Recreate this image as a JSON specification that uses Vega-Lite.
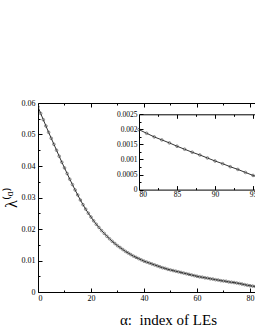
{
  "$schema": "https://vega.github.io/schema/vega-lite/v6.json",
  "width": 217,
  "height": 189,
  "autosize": {"type": "none"},
  "padding": {"left": 38, "top": 103, "right": 0, "bottom": 38},
  "background": "white",
  "config": {
    "view": {"stroke": null},
    "axis": {
      "labelFont": "Liberation Serif",
      "titleFont": "Liberation Serif",
      "labelColor": "black",
      "titleColor": "black",
      "domainColor": "black",
      "tickColor": "black",
      "domainWidth": 1,
      "tickWidth": 1,
      "grid": false,
      "labelFontSize": 8,
      "titleFontWeight": "normal"
    }
  },
  "datasets": {
    "main": [
      {"a": 0, "l": 0.0588}, {"a": 1, "l": 0.0567}, {"a": 2, "l": 0.0547}, {"a": 3, "l": 0.0527},
      {"a": 4, "l": 0.0507}, {"a": 5, "l": 0.0488}, {"a": 6, "l": 0.0469}, {"a": 7, "l": 0.045},
      {"a": 8, "l": 0.0431}, {"a": 9, "l": 0.0412}, {"a": 10, "l": 0.0394}, {"a": 11, "l": 0.0376},
      {"a": 12, "l": 0.0358}, {"a": 13, "l": 0.0341}, {"a": 14, "l": 0.0324}, {"a": 15, "l": 0.0308},
      {"a": 16, "l": 0.0292}, {"a": 17, "l": 0.0277}, {"a": 18, "l": 0.0263}, {"a": 19, "l": 0.025},
      {"a": 20, "l": 0.0238}, {"a": 21, "l": 0.0226}, {"a": 22, "l": 0.0215}, {"a": 23, "l": 0.0205},
      {"a": 24, "l": 0.0195}, {"a": 25, "l": 0.0186}, {"a": 26, "l": 0.0177}, {"a": 27, "l": 0.0169},
      {"a": 28, "l": 0.0161}, {"a": 29, "l": 0.0154}, {"a": 30, "l": 0.0147}, {"a": 31, "l": 0.0141},
      {"a": 32, "l": 0.0135}, {"a": 33, "l": 0.0129}, {"a": 34, "l": 0.0124}, {"a": 35, "l": 0.0119},
      {"a": 36, "l": 0.0114}, {"a": 37, "l": 0.011}, {"a": 38, "l": 0.0106}, {"a": 39, "l": 0.0102},
      {"a": 40, "l": 0.0098}, {"a": 41, "l": 0.0095}, {"a": 42, "l": 0.0092}, {"a": 43, "l": 0.0089},
      {"a": 44, "l": 0.0086}, {"a": 45, "l": 0.0083}, {"a": 46, "l": 0.008}, {"a": 47, "l": 0.0077},
      {"a": 48, "l": 0.0075}, {"a": 49, "l": 0.0072}, {"a": 50, "l": 0.007}, {"a": 51, "l": 0.0068},
      {"a": 52, "l": 0.0066}, {"a": 53, "l": 0.0064}, {"a": 54, "l": 0.0062}, {"a": 55, "l": 0.006},
      {"a": 56, "l": 0.0058}, {"a": 57, "l": 0.0056}, {"a": 58, "l": 0.0054}, {"a": 59, "l": 0.0052},
      {"a": 60, "l": 0.005}, {"a": 61, "l": 0.0048}, {"a": 62, "l": 0.0047}, {"a": 63, "l": 0.0045},
      {"a": 64, "l": 0.0044}, {"a": 65, "l": 0.0042}, {"a": 66, "l": 0.0041}, {"a": 67, "l": 0.0039},
      {"a": 68, "l": 0.0038}, {"a": 69, "l": 0.0036}, {"a": 70, "l": 0.0035}, {"a": 71, "l": 0.0034},
      {"a": 72, "l": 0.0032}, {"a": 73, "l": 0.0031}, {"a": 74, "l": 0.003}, {"a": 75, "l": 0.00285},
      {"a": 76, "l": 0.0027}, {"a": 77, "l": 0.00252}, {"a": 78, "l": 0.00233}, {"a": 79, "l": 0.00215},
      {"a": 80, "l": 0.00199}, {"a": 81, "l": 0.00187}, {"a": 82, "l": 0.00175}, {"a": 83, "l": 0.00165},
      {"a": 84, "l": 0.00155}, {"a": 85, "l": 0.00144}, {"a": 86, "l": 0.00134}, {"a": 87, "l": 0.00124},
      {"a": 88, "l": 0.00115}, {"a": 89, "l": 0.00105}, {"a": 90, "l": 0.00095}, {"a": 91, "l": 0.00086},
      {"a": 92, "l": 0.00076}, {"a": 93, "l": 0.00067}, {"a": 94, "l": 0.00057}, {"a": 95, "l": 0.00047},
      {"a": 96, "l": 0.00038}, {"a": 97, "l": 0.00029}
    ]
  },
  "data": {"name": "main"},
  "resolve": {"scale": {"x": "independent", "y": "independent"}},
  "layer": [
    {
      "layer": [
        {"mark": {"type": "line", "color": "black", "strokeWidth": 0.8, "clip": true}},
        {"mark": {"type": "point", "shape": "circle", "filled": false, "size": 7, "color": "#333333", "strokeWidth": 0.8, "clip": true}}
      ],
      "encoding": {
        "x": {
          "field": "a", "type": "quantitative",
          "scale": {"domain": [0, 81.9], "nice": false, "zero": false},
          "axis": {
            "orient": "bottom", "values": [0, 20, 40, 60, 80], "tickSize": -4, "labelPadding": 6,
            "title": "α:\u00a0\u00a0index of LEs", "titleFontSize": 15, "titleX": 130, "titleY": 32,
            "titleAlign": "center", "titleBaseline": "alphabetic"
          }
        },
        "y": {
          "field": "l", "type": "quantitative",
          "scale": {"domain": [0, 0.06], "nice": false, "zero": false},
          "axis": {
            "orient": "left", "values": [0, 0.01, 0.02, 0.03, 0.04, 0.05, 0.06], "format": "~g",
            "tickSize": -4, "labelPadding": 7,
            "title": "λ⁽ᵅ⁾", "titleFontSize": 16, "titleX": -27, "titleY": 94,
            "titleAlign": "center", "titleBaseline": "middle", "titleAngle": -90
          }
        }
      }
    },
    {
      "mark": {"type": "point", "opacity": 0},
      "encoding": {
        "x": {"field": "a", "type": "quantitative", "scale": {"domain": [0, 81.9], "nice": false, "zero": false},
          "axis": {"orient": "bottom", "values": [10, 30, 50, 70], "tickSize": -2, "labels": false, "domain": false, "title": null}},
        "y": {"field": "l", "type": "quantitative", "scale": {"domain": [0, 0.06], "nice": false, "zero": false},
          "axis": {"orient": "left", "values": [0.005, 0.015, 0.025, 0.035, 0.045, 0.055], "tickSize": -2, "labels": false, "domain": false, "title": null}}
      }
    },
    {
      "mark": {"type": "point", "opacity": 0},
      "encoding": {
        "x": {"field": "a", "type": "quantitative", "scale": {"domain": [0, 81.9], "nice": false, "zero": false},
          "axis": {"orient": "top", "values": [20, 40, 60, 80], "tickSize": -4, "labels": false, "domain": true, "title": null}},
        "y": {"field": "l", "type": "quantitative", "scale": {"domain": [0, 0.06], "nice": false, "zero": false}, "axis": null}
      }
    },
    {
      "mark": {"type": "point", "opacity": 0},
      "encoding": {
        "x": {"field": "a", "type": "quantitative", "scale": {"domain": [0, 81.9], "nice": false, "zero": false},
          "axis": {"orient": "top", "values": [10, 30, 50, 70], "tickSize": -2, "labels": false, "domain": false, "title": null}},
        "y": {"field": "l", "type": "quantitative", "scale": {"domain": [0, 0.06], "nice": false, "zero": false}, "axis": null}
      }
    },
    {
      "transform": [{"filter": "datum.a >= 80 && datum.a <= 96"}],
      "layer": [
        {"mark": {"type": "line", "color": "black", "strokeWidth": 0.8, "clip": true}},
        {"mark": {"type": "point", "shape": "circle", "filled": false, "size": 7, "color": "#333333", "strokeWidth": 0.8, "clip": true}}
      ],
      "encoding": {
        "x": {
          "field": "a", "type": "quantitative",
          "scale": {"domain": [80, 95.26], "range": [101, 217], "nice": false, "zero": false},
          "axis": {"orient": "bottom", "offset": -102.4, "values": [80, 85, 90, 95], "tickSize": -4, "labelPadding": 5, "labelFontSize": 7.5, "title": null}
        },
        "y": {
          "field": "l", "type": "quantitative",
          "scale": {"domain": [0, 0.0025], "range": [86.6, 11.3], "nice": false, "zero": false},
          "axis": {"orient": "left", "offset": -101, "values": [0, 0.0005, 0.001, 0.0015, 0.002, 0.0025], "format": "~g", "tickSize": -4, "labelPadding": 6, "labelFontSize": 7.5, "title": null}
        }
      }
    },
    {
      "mark": {"type": "point", "opacity": 0},
      "transform": [{"filter": "datum.a >= 80 && datum.a <= 95"}],
      "encoding": {
        "x": {"field": "a", "type": "quantitative", "scale": {"domain": [80, 95.26], "range": [101, 217], "nice": false, "zero": false},
          "axis": {"orient": "bottom", "offset": -102.4, "values": [82.5, 87.5, 92.5], "tickSize": -2, "labels": false, "domain": false, "title": null}},
        "y": {"field": "l", "type": "quantitative", "scale": {"domain": [0, 0.0025], "range": [86.6, 11.3], "nice": false, "zero": false},
          "axis": {"orient": "left", "offset": -101, "values": [0.00025, 0.00075, 0.00125, 0.00175, 0.00225], "tickSize": -2, "labels": false, "domain": false, "title": null}}
      }
    },
    {
      "mark": {"type": "point", "opacity": 0},
      "transform": [{"filter": "datum.a >= 80 && datum.a <= 95"}],
      "encoding": {
        "x": {"field": "a", "type": "quantitative", "scale": {"domain": [80, 95.26], "range": [101, 217], "nice": false, "zero": false},
          "axis": {"orient": "top", "offset": -11.3, "values": [85, 90, 95], "tickSize": -4, "labels": false, "domain": true, "title": null}},
        "y": {"field": "l", "type": "quantitative", "scale": {"domain": [0, 0.0025], "range": [86.6, 11.3], "nice": false, "zero": false}, "axis": null}
      }
    },
    {
      "mark": {"type": "point", "opacity": 0},
      "transform": [{"filter": "datum.a >= 80 && datum.a <= 95"}],
      "encoding": {
        "x": {"field": "a", "type": "quantitative", "scale": {"domain": [80, 95.26], "range": [101, 217], "nice": false, "zero": false},
          "axis": {"orient": "top", "offset": -11.3, "values": [82.5, 87.5, 92.5], "tickSize": -2, "labels": false, "domain": false, "title": null}},
        "y": {"field": "l", "type": "quantitative", "scale": {"domain": [0, 0.0025], "range": [86.6, 11.3], "nice": false, "zero": false}, "axis": null}
      }
    }
  ]
}
